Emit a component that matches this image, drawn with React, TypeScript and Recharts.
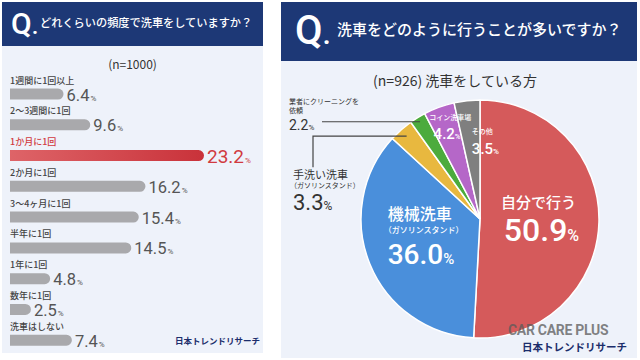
import { BarChart, Bar, XAxis, YAxis, LabelList, Cell, PieChart, Pie } from 'recharts'

// left: how often do you wash your car (n=1000)
const freqLabels = [
  '1週間に1回以上',
  '2〜3週間に1回',
  '1か月に1回',
  '2か月に1回',
  '3〜4ヶ月に1回',
  '半年に1回',
  '1年に1回',
  '数年に1回',
  '洗車はしない',
]
const freqValues = [6.4, 9.6, 23.2, 16.2, 15.4, 14.5, 4.8, 2.5, 7.4]
const HIGHLIGHT = 2

// right: how do you usually wash it (n=926)
const methodLabels = ['自分で行う', '機械洗車', '手洗い洗車', '業者にクリーニングを', 'コイン洗車場', 'その他']
const methodSubLabels = ['', '（ガソリンスタンド）', '（ガソリンスタンド）', '依頼', '', '']
const methodValues = [50.9, 36.0, 3.3, 2.2, 4.2, 3.5]
const methodColors = ['#d55a5b', '#4a8fdb', '#e8b83f', '#4cab3d', '#b567c8', '#7f7f7f']

const freqData = freqLabels.map((label, i) => ({ label, value: freqValues[i] }))
const methodData = methodLabels.map((name, i) => ({ name, value: methodValues[i] }))

const NAVY = '#1d3876'
const PANEL = '#eef2fa'
const JP = "'Noto Sans CJK JP', 'Noto Sans', sans-serif"
const NUM = "Roboto, 'Noto Sans', sans-serif"
const RED = '#d13a40'
const RAD = Math.PI / 180

const polar = (cx: number, cy: number, r: number, angle: number) => ({
  x: cx + r * Math.cos(-angle * RAD),
  y: cy + r * Math.sin(-angle * RAD),
})

function CategoryLabel(props: any) {
  const { x, y, index } = props
  return (
    <text x={x} y={y - 5} fontSize={9} fontFamily={JP} fontWeight={500} fill={index === HIGHLIGHT ? RED : '#444'}>
      {freqLabels[index]}
    </text>
  )
}

function ValueLabel(props: any) {
  const { x, y, width, height, index } = props
  const red = index === HIGHLIGHT
  return (
    <text x={x + width + 3} y={y + height / 2 + (red ? 7 : 6.5)} fontFamily={NUM} fill={red ? RED : '#555'}>
      <tspan fontSize={red ? 19 : 16.5}>{freqValues[index].toFixed(1)}</tspan>
      <tspan fontSize={8} dx={1}>%</tspan>
    </text>
  )
}

function PieLabel(props: any) {
  const { cx, cy, midAngle, outerRadius: R, index } = props
  const val = methodValues[index].toFixed(1)
  const name = methodLabels[index]
  const sub = methodSubLabels[index]

  if (index === 0) {
    const a = polar(cx, cy, R * 0.5, midAngle)
    return (
      <g fill="#fff">
        <text x={a.x - 1} y={a.y - 13} textAnchor="middle" fontSize={15} fontFamily={JP} fontWeight={500}>{name}</text>
        <text x={a.x + 2} y={a.y + 20} textAnchor="middle" fontFamily={NUM} fontWeight={500}>
          <tspan fontSize={32}>{val}</tspan>
          <tspan fontSize={16}>%</tspan>
        </text>
      </g>
    )
  }
  if (index === 1) {
    const a = polar(cx, cy, R * 0.72, midAngle)
    return (
      <g fill="#fff">
        <text x={a.x - 13} y={a.y - 31.5} fontSize={16} fontFamily={JP} fontWeight={500}>{name}</text>
        <text x={a.x - 17} y={a.y - 18} fontSize={8} fontFamily={JP} fontWeight={500}>{sub}</text>
        <text x={a.x - 13} y={a.y + 13} fontFamily={NUM} fontWeight={500}>
          <tspan fontSize={28}>{val}</tspan>
          <tspan fontSize={15}>%</tspan>
        </text>
      </g>
    )
  }
  if (index === 2) {
    const e = polar(cx, cy, R * 0.93, midAngle)
    const lx = cx - 167
    return (
      <g>
        <polyline points={`${e.x},${e.y} ${lx},${e.y} ${lx},${e.y + 31}`} fill="none" stroke="#444" strokeWidth={1.2} />
        <text x={cx - 187} y={e.y + 42.5} fontSize={11} fontFamily={JP} fill="#333">{name}</text>
        <text x={cx - 190} y={e.y + 52} fontSize={7} fontFamily={JP} fill="#333">{sub}</text>
        <text x={cx - 187} y={e.y + 74} fontFamily={NUM} fill="#333">
          <tspan fontSize={22}>{val}</tspan>
          <tspan fontSize={12}>%</tspan>
        </text>
      </g>
    )
  }
  if (index === 3) {
    const e = polar(cx, cy, R * 0.96, midAngle)
    return (
      <g>
        <line x1={cx - 158} y1={e.y} x2={e.x} y2={e.y} stroke="#444" strokeWidth={1.2} />
        <text x={cx - 191} y={e.y - 17.5} fontSize={7} fontFamily={JP} fill="#333">{name}</text>
        <text x={cx - 191} y={e.y - 8.5} fontSize={7} fontFamily={JP} fill="#333">{sub}</text>
        <text x={cx - 191} y={e.y + 8} fontFamily={NUM} fill="#333">
          <tspan fontSize={14}>{val}</tspan>
          <tspan fontSize={8}>%</tspan>
        </text>
      </g>
    )
  }
  if (index === 4) {
    const a = polar(cx, cy, R * 0.85, midAngle)
    return (
      <g fill="#fff">
        <text x={a.x + 5} y={a.y - 4} textAnchor="middle" fontSize={7} fontFamily={JP} fontWeight={500}>{name}</text>
        <text x={a.x + 2} y={a.y + 14.5} textAnchor="middle" fontFamily={NUM} fontWeight={500}>
          <tspan fontSize={15}>{val}</tspan>
          <tspan fontSize={8}>%</tspan>
        </text>
      </g>
    )
  }
  const a = polar(cx, cy, R * 0.7, midAngle)
  return (
    <g fill="#fff">
      <text x={a.x + 1} y={a.y - 2} fontSize={7} fontFamily={JP} fontWeight={500}>{name}</text>
      <text x={a.x + 1} y={a.y + 18} fontFamily={NUM} fontWeight={500}>
        <tspan fontSize={15}>{val}</tspan>
        <tspan fontSize={8}>%</tspan>
      </text>
    </g>
  )
}

const abs = (left: number, top: number, width: number, height: number) => ({
  position: 'absolute' as const,
  left,
  top,
  width,
  height,
})

export default function App() {
  return (
    <div style={{ ...abs(0, 0, 640, 360), background: '#fff', overflow: 'hidden', fontFamily: JP }}>
      {/* left panel */}
      <div style={{ ...abs(2, 2, 261, 351), background: PANEL }} />
      <div style={{ ...abs(2, 2, 261, 44), background: NAVY }} />
      <div style={{ ...abs(11, 6, 40, 36), color: '#fff', fontFamily: NUM, fontSize: 30, fontWeight: 500, lineHeight: '36px' }}>
        Q<span style={{ fontSize: 24 }}>.</span>
      </div>
      <div style={{ ...abs(40, 13, 222, 18), color: '#fff', fontSize: 11.2, fontWeight: 500, lineHeight: '18px', whiteSpace: 'nowrap' }}>
        どれくらいの頻度で洗車をしていますか？
      </div>
      <div style={{ ...abs(2, 55, 261, 18), color: '#333', fontSize: 12, textAlign: 'center', lineHeight: '18px' }}>
        (n=1000)
      </div>

      <div style={abs(0, 0, 263, 360)}>
        <BarChart
          layout="vertical"
          width={263}
          height={360}
          data={freqData}
          margin={{ top: 78.6, right: 59, bottom: 4.6, left: 10 }}
        >
          <defs>
            <linearGradient id="redGrad" x1="0" y1="0" x2="1" y2="0">
              <stop offset="0%" stopColor="#de6468" />
              <stop offset="100%" stopColor="#c9323a" />
            </linearGradient>
          </defs>
          <XAxis type="number" hide domain={[0, 'dataMax']} />
          <YAxis type="category" dataKey="label" hide width={0} />
          <Bar dataKey="value" barSize={11} radius={[0, 5.5, 5.5, 0]} isAnimationActive={false}>
            {freqData.map((_, i) => (
              <Cell key={i} fill={i === HIGHLIGHT ? 'url(#redGrad)' : '#a9a9ac'} />
            ))}
            <LabelList dataKey="label" content={CategoryLabel} />
            <LabelList dataKey="value" content={ValueLabel} />
          </Bar>
        </BarChart>
      </div>

      <div style={{ ...abs(175, 333, 80, 14), color: '#1b2d6b', fontSize: 8.5, fontWeight: 700, lineHeight: '14px', whiteSpace: 'nowrap' }}>
        日本トレンドリサーチ
      </div>

      {/* right panel */}
      <div style={{ ...abs(281, 2, 356, 356), background: PANEL }} />
      <div style={{ ...abs(281, 2, 356, 59), background: NAVY }} />
      <div style={{ ...abs(295, 7, 44, 48), color: '#fff', fontFamily: NUM, fontSize: 40, fontWeight: 500, lineHeight: '48px' }}>
        Q<span style={{ fontSize: 30 }}>.</span>
      </div>
      <div style={{ ...abs(337, 18, 300, 22), color: '#fff', fontSize: 15, fontWeight: 500, lineHeight: '22px', whiteSpace: 'nowrap' }}>
        洗車をどのように行うことが多いですか？
      </div>
      <div style={{ ...abs(281, 70, 348, 20), color: '#333', fontSize: 14, textAlign: 'center', lineHeight: '20px', whiteSpace: 'nowrap' }}>
        (n=926) 洗車をしている方
      </div>

      <div style={abs(280, 0, 360, 360)}>
        <PieChart width={360} height={360} margin={{ top: 0, right: 0, bottom: 0, left: 0 }}>
          <Pie
            data={methodData}
            dataKey="value"
            nameKey="name"
            cx={200}
            cy={219}
            outerRadius={119}
            startAngle={90}
            endAngle={-270}
            stroke="#fff"
            strokeWidth={1.5}
            label={PieLabel}
            labelLine={false}
            isAnimationActive={false}
          >
            {methodData.map((_, i) => (
              <Cell key={i} fill={methodColors[i]} />
            ))}
          </Pie>
        </PieChart>
      </div>

      <div style={{ ...abs(508, 322, 124, 16), color: 'rgba(90,90,90,0.75)', fontFamily: NUM, fontSize: 14, fontWeight: 700, lineHeight: '16px', whiteSpace: 'nowrap', letterSpacing: -0.3 }}>
        CAR CARE PLUS
      </div>
      <div style={{ ...abs(522, 339, 110, 16), color: '#1b2d6b', fontSize: 10.5, fontWeight: 700, lineHeight: '16px', whiteSpace: 'nowrap' }}>
        日本トレンドリサーチ
      </div>
    </div>
  )
}
